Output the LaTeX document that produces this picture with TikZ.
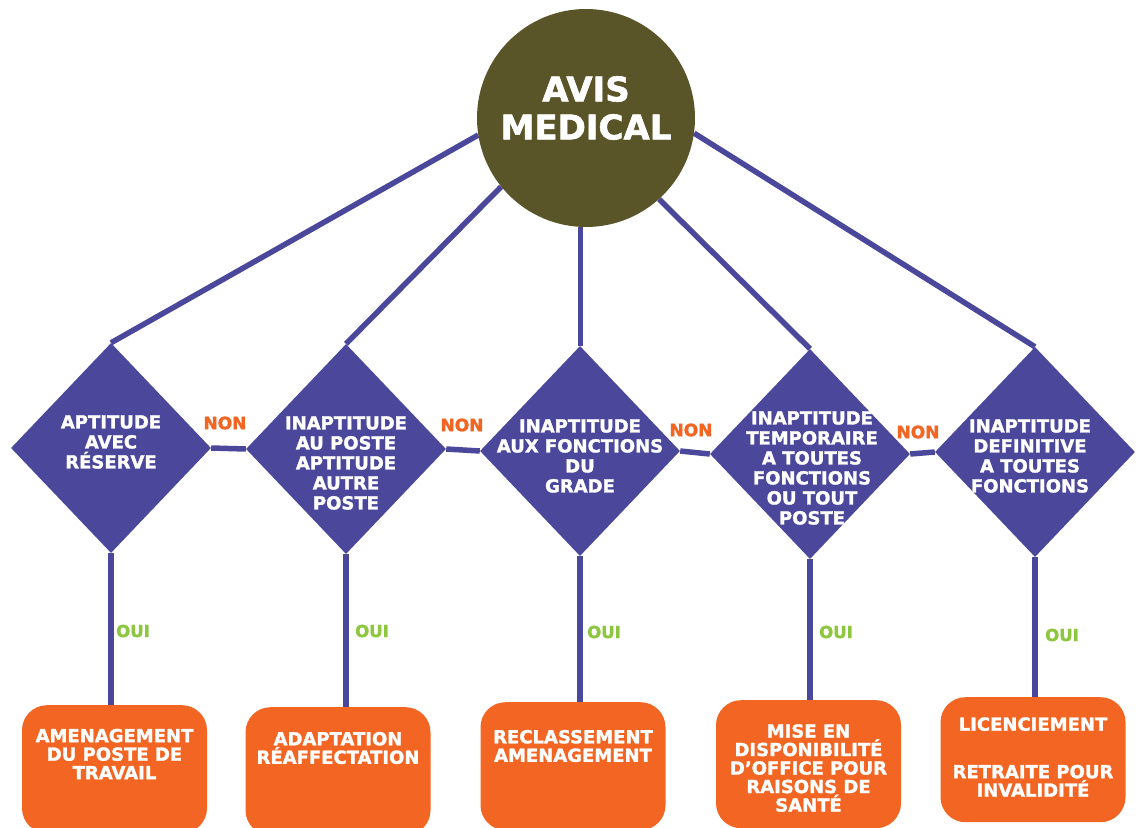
\documentclass[tikz,border=0pt]{standalone}
\usepackage{fontspec}
\setmainfont{DejaVu Sans}[BoldFeatures={FakeBold=1.6}]
\usetikzlibrary{shapes.geometric,backgrounds}
\definecolor{purp}{HTML}{4B489C}
\definecolor{avisolive}{HTML}{5A5429}
\definecolor{orng}{HTML}{F26522}
\definecolor{ouigreen}{HTML}{8DC63F}
\begin{document}
\begin{tikzpicture}[x=1pt,y=-1pt,
  dia/.style={diamond, fill=purp, minimum width=200pt, minimum height=210pt, inner sep=0pt},
  dtext/.style={text=white, font=\bfseries\fontsize{18}{20}\selectfont, align=center, inner sep=0pt},
  outbox/.style={fill=orng, rounded corners=25pt, minimum width=185pt, minimum height=128pt, anchor=north, inner sep=0pt},
  btext/.style={text=white, font=\bfseries\fontsize{18}{18.5}\selectfont, align=center, inner sep=0pt},
  conn/.style={draw=purp, line width=5.5pt},
  nonlab/.style={text=orng, font=\bfseries\fontsize{17}{19}\selectfont, inner sep=0pt},
  ouilab/.style={text=ouigreen, font=\bfseries\fontsize{16.5}{18}\selectfont, inner sep=0pt}]
\useasboundingbox (0,0) rectangle (1140,827);
\clip (0,0) rectangle (1140,827);

% central circle
\node[circle, fill=avisolive, minimum size=218pt, inner sep=0pt] (c) at (586,118) {};
\node[text=white, font=\bfseries\fontsize{34}{38}\selectfont, align=center, inner sep=0pt] (ct) at (586,108) {AVIS\\MEDICAL};

% diamonds
\node[dia] (d1) at (111,448) {};
\node[dia] (d2) at (346,449) {};
\node[dia] (d3) at (580,451) {};
\node[dia] (d4) at (810,454) {};
\node[dia] (d5) at (1035,452) {};
\node[dtext] (t1) at (111,442) {APTITUDE\\AVEC\\RÉSERVE};
\node[dtext] (t2) at (346,463) {INAPTITUDE\\AU POSTE\\APTITUDE\\AUTRE\\POSTE};
\node[dtext] (t3) at (580,456) {INAPTITUDE\\AUX FONCTIONS\\DU\\GRADE};
\node[dtext] (t4) at (812,468) {INAPTITUDE\\TEMPORAIRE\\A TOUTES\\FONCTIONS\\OU TOUT\\POSTE};
\node[dtext] (t5) at (1030,456) {INAPTITUDE\\DEFINITIVE\\A TOUTES\\FONCTIONS};

% boxes
\node[outbox] (b1) at (114.5,705) {};
\node[outbox] (b2) at (338,707) {};
\node[outbox] (b3) at (573,702) {};
\node[outbox] (b4) at (808.5,700) {};
\node[outbox, minimum height=125pt] (b5) at (1033,697) {};
\node[btext] (u1) at (114.5,754) {AMENAGEMENT\\DU POSTE DE\\TRAVAIL};
\node[btext] (u2) at (338,748) {ADAPTATION\\RÉAFFECTATION};
\node[btext] (u3) at (573,746) {RECLASSEMENT\\AMENAGEMENT};
\node[btext] (u4) at (808.5,768) {MISE EN\\DISPONIBILITÉ\\D’OFFICE POUR\\RAISONS DE\\SANTÉ};
\node[btext] (u5) at (1033,757) {LICENCIEMENT\\[29pt]RETRAITE POUR\\INVALIDITÉ};

% labels
\node[nonlab] (n1) at (225,423) {NON};
\node[nonlab] (n2) at (462,425) {NON};
\node[nonlab] (n3) at (691,430) {NON};
\node[nonlab] (n4) at (918,432) {NON};
\node[ouilab] (o1) at (133,631) {OUI};
\node[ouilab] (o2) at (372,631) {OUI};
\node[ouilab] (o3) at (604,632) {OUI};
\node[ouilab] (o4) at (836,632) {OUI};
\node[ouilab] (o5) at (1062,635) {OUI};

\begin{scope}[on background layer]
  \draw[conn] (c.189.4) -- (d1.north);
  \draw[conn] (c.219.8) -- (d2.north);
  \draw[conn] (c.267) -- (c.267 |- d3.north);
  \draw[conn] (c.312) -- (d4.north);
  \draw[conn] (c.352) -- (d5.north);
  \draw[conn] (d1.east) -- (d2.west);
  \draw[conn] (d2.east) -- (d3.west);
  \draw[conn] (d3.east) -- (d4.west);
  \draw[conn] (d4.east) -- (d5.west);
  \draw[conn] (d1.south) -- (d1.south |- b1.north);
  \draw[conn] (d2.south) -- (d2.south |- b2.north);
  \draw[conn] (d3.south) -- (d3.south |- b3.north);
  \draw[conn] (d4.south) -- (d4.south |- b4.north);
  \draw[conn] (d5.south) -- (d5.south |- b5.north);
\end{scope}
\end{tikzpicture}
\end{document}
